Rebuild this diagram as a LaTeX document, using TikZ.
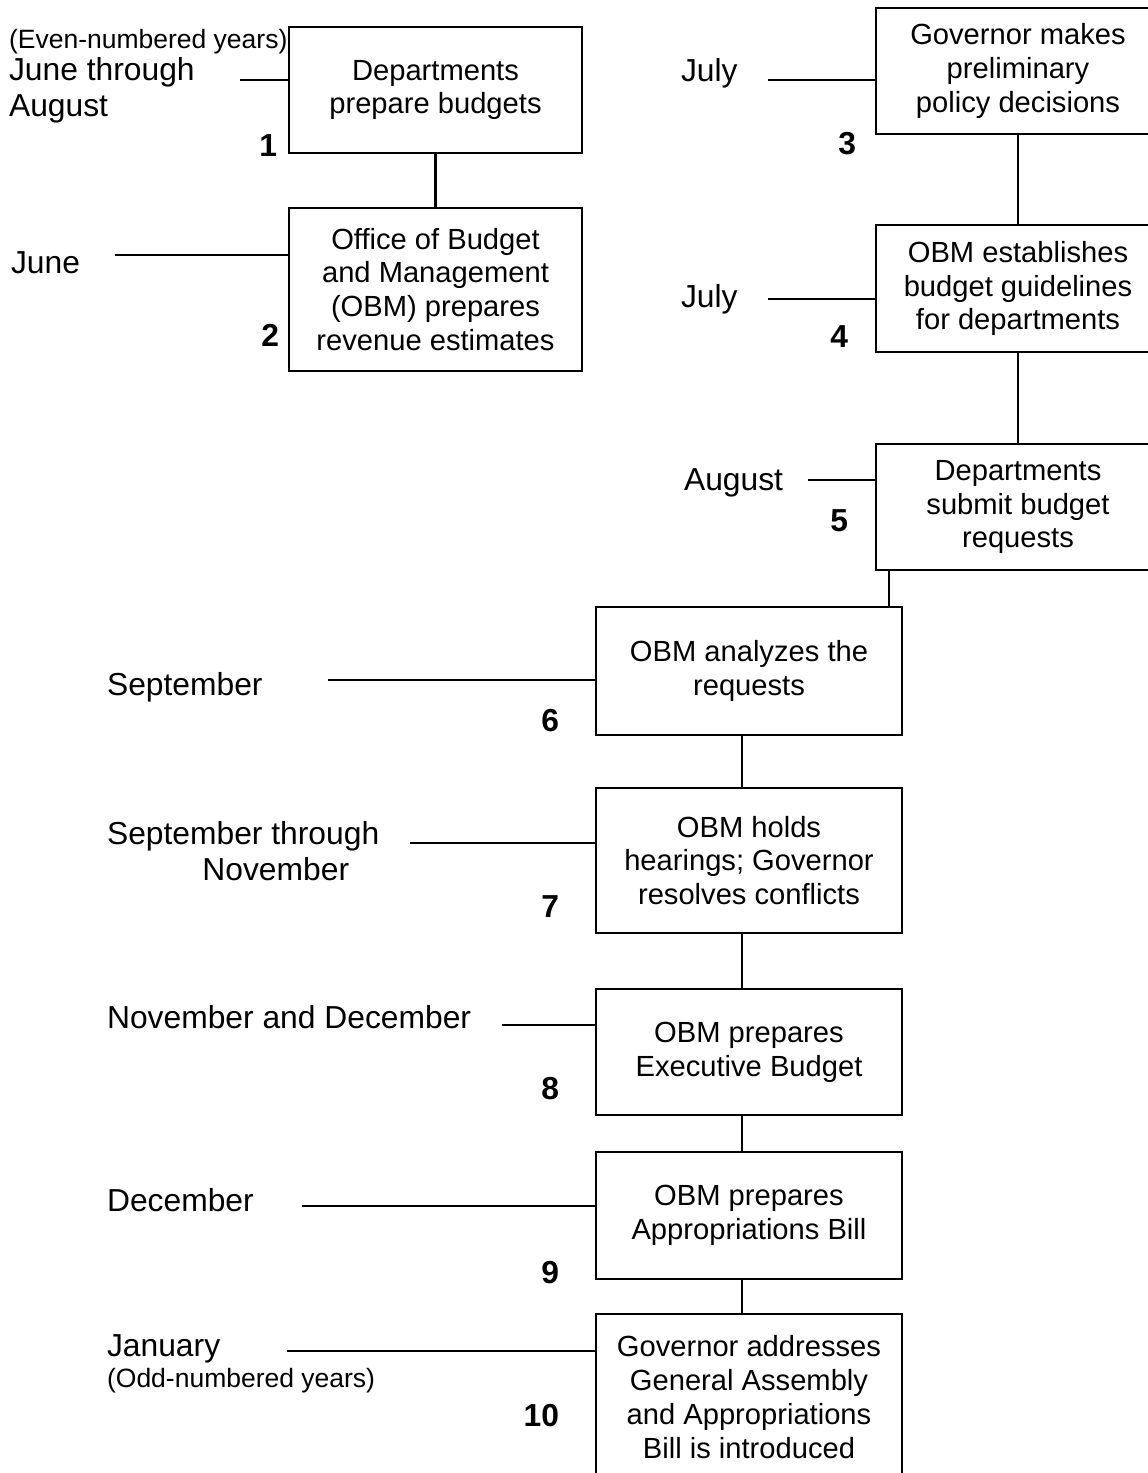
\documentclass[tikz,border=0pt]{standalone}
\usepackage{fontspec}
\setmainfont{Liberation Sans}
\usepackage{tikz}

\tikzset{
  box/.style 2 args={shape=rectangle, draw=black, minimum width=#1*0.3774pt, minimum height=#2*0.3774pt,
    inner sep=0pt, align=center, font=\fontsize{11}{12.8}\selectfont},
  month/.style={anchor=west, align=left, inner sep=0pt, font=\fontsize{12}{13.6}\selectfont},
  yearnote/.style={anchor=west, inner sep=0pt, font=\fontsize{10}{12}\selectfont},
  stepno/.style={anchor=east, inner sep=0pt, font=\fontsize{12}{14}\selectfont\bfseries},
}

\begin{document}
\begin{tikzpicture}[x=0.3774pt, y=-0.3774pt, line width=0.8pt]
    \useasboundingbox (0,0) rectangle (1148,1473);

    \node[box={293}{126}] (b1)  at (435.5, 90)    {Departments\\prepare budgets};
    \node[box={293}{163}] (b2)  at (435.5, 289.5) {Office of Budget\\and Management\\(OBM) prepares\\revenue estimates};
    \node[box={284}{126}] (b3)  at (1018, 71)     {Governor makes\\preliminary\\policy decisions};
    \node[box={284}{127}] (b4)  at (1018, 288.5)  {OBM establishes\\budget guidelines\\for departments};
    \node[box={284}{126}] (b5)  at (1018, 507)    {Departments\\submit budget\\requests};
    \node[box={306}{128}] (b6)  at (749, 671)     {OBM analyzes the\\requests};
    \node[box={306}{145}] (b7)  at (749, 860.5)   {OBM holds\\hearings; Governor\\resolves conflicts};
    \node[box={306}{126}] (b8)  at (749, 1052)    {OBM prepares\\Executive Budget};
    \node[box={306}{127}] (b9)  at (749, 1215.5)  {OBM prepares\\Appropriations Bill};
    \node[box={306}{166}] (b10) at (749, 1397)    {Governor addresses\\General Assembly\\and Appropriations\\Bill is introduced};

    \node[yearnote] (even) at (8, 42)    {(Even-numbered years)};
    \node[month] (m1)  at (8, 90)        {June through\\August};
    \node[month] (m2)  at (10, 263)      {June};
    \node[month] (m3)  at (680, 73)      {July};
    \node[month] (m4)  at (680, 299)     {July};
    \node[month] (m5)  at (683, 483)     {August};
    \node[month] (m6)  at (106, 687)     {September};
    \node[month] (m7)  at (106, 851)     {September through\\\hspace*{36pt}November};
    \node[month] (m8)  at (106, 1017)    {November and December};
    \node[month] (m9)  at (106, 1200)    {December};
    \node[month] (m10) at (106, 1349)    {January};
    \node[yearnote] (odd) at (106, 1381) {(Odd-numbered years)};

    \node[stepno] (n1)  at (278, 146)  {1};
    \node[stepno] (n2)  at (280, 335)  {2};
    \node[stepno] (n3)  at (857, 144)  {3};
    \node[stepno] (n4)  at (849, 337)  {4};
    \node[stepno] (n5)  at (849, 521)  {5};
    \node[stepno] (n6)  at (560, 721)  {6};
    \node[stepno] (n7)  at (560, 907)  {7};
    \node[stepno] (n8)  at (560, 1089) {8};
    \node[stepno] (n9)  at (560, 1273) {9};
    \node[stepno] (n10) at (560, 1416) {10};

    \coordinate (t1)  at (240, 80);
    \coordinate (t2)  at (115, 255);
    \coordinate (t3)  at (768, 80);
    \coordinate (t4)  at (768, 299);
    \coordinate (t5)  at (808, 480);
    \coordinate (t6)  at (328, 680);
    \coordinate (t7)  at (410, 843);
    \coordinate (t8)  at (502, 1025);
    \coordinate (t9)  at (302, 1206);
    \coordinate (t10) at (287, 1351);
    \coordinate (link)  at (889, 589);
    \coordinate (spine) at (742, 0);

    \path[-] (t1) edge (t1 -| b1.west);
    \path[-] (t2) edge (t2 -| b2.west);
    \path[-] (t3) edge (t3 -| b3.west);
    \path[-] (t4) edge (t4 -| b4.west);
    \path[-] (t5) edge (t5 -| b5.west);
    \path[-] (t6) edge (t6 -| b6.west);
    \path[-] (t7) edge (t7 -| b7.west);
    \path[-] (t8) edge (t8 -| b8.west);
    \path[-] (t9) edge (t9 -| b9.west);
    \path[-] (t10) edge (t10 -| b10.west);

    \path[-] (b1) edge (b2);
    \path[-] (b3) edge (b4);
    \path[-] (b4) edge (b5);
    \path[-] (b5.south -| link) edge (b6.north -| link);
    \path[-] (b6.south -| spine) edge (b7.north -| spine);
    \path[-] (b7.south -| spine) edge (b8.north -| spine);
    \path[-] (b8.south -| spine) edge (b9.north -| spine);
    \path[-] (b9.south -| spine) edge (b10.north -| spine);
\end{tikzpicture}
\end{document}
